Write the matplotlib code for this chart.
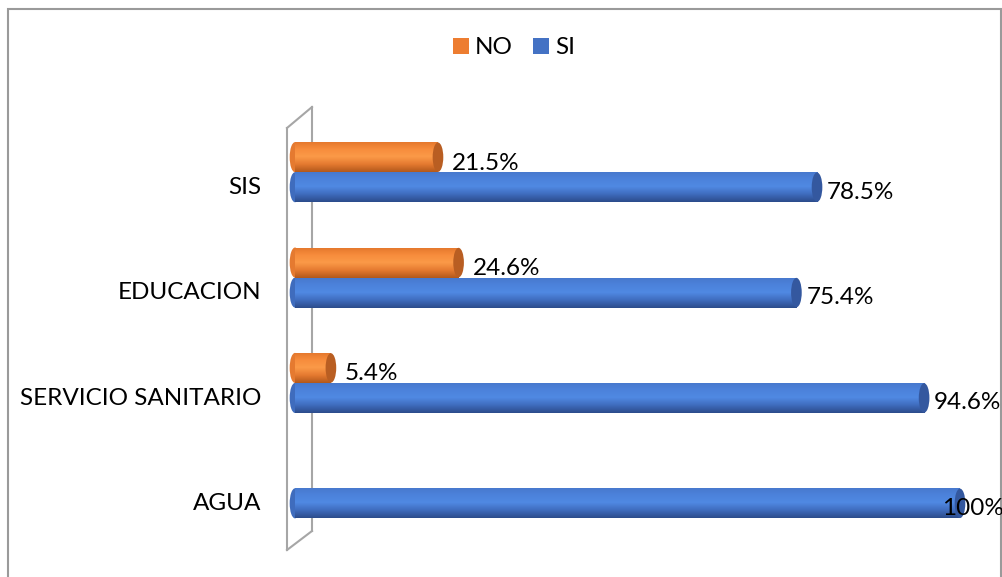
import numpy as np
import matplotlib
matplotlib.use("Agg")
import matplotlib.pyplot as plt
from matplotlib.patches import Ellipse, Patch, Rectangle
from matplotlib.lines import Line2D
from matplotlib.colors import LinearSegmentedColormap

# data (bottom to top)
categories = ["AGUA", "SERVICIO SANITARIO", "EDUCACION", "SIS"]
no_vals = [0, 5.4, 24.6, 21.5]
si_vals = [100, 94.6, 75.4, 78.5]
no_labels = [None, "5.4%", "24.6%", "21.5%"]
si_labels = ["100%", "94.6%", "75.4%", "78.5%"]

plt.rcParams['font.family'] = ['Lato', 'DejaVu Sans']

W, H = 1003, 577
fig = plt.figure(figsize=(W / 100, H / 100), dpi=100)

def fx(px):
    return px / W

def fy(py):
    return 1 - py / H

# outer chart border
fig.add_artist(Rectangle((fx(8.5), fy(600)), fx(993), fy(8.5) - fy(600),
                         transform=fig.transFigure, fill=False,
                         edgecolor="#9a9a9a", lw=1.5, zorder=-2))

# 3D wall outline
wall = "#a6a6a6"
for (x0, y0), (x1, y1) in [((287, 128), (287, 550)), ((312, 107), (312, 531)),
                           ((287, 128), (312, 107)), ((287, 550), (312, 531))]:
    fig.add_artist(Line2D([fx(x0), fx(x1)], [fy(y0), fy(y1)], transform=fig.transFigure,
                          color=wall, lw=1.5, zorder=-1))

ax = fig.add_axes([fx(295), fy(541), fx(665), fy(119.5) - fy(541)])
ax.patch.set_visible(False)
for s in ax.spines.values():
    s.set_visible(False)

ypos = np.arange(len(categories))
bh = 0.285

orange_cm = LinearSegmentedColormap.from_list("o", ["#e3762c", "#f78c3c", "#fb9a48", "#e57a30", "#b3591c"])
blue_cm = LinearSegmentedColormap.from_list("b", ["#4778cc", "#4c82db", "#5089e3", "#3f6cbd", "#2c4c8c"])

grad = np.linspace(0, 1, 64).reshape(-1, 1)

def draw_cyl(bars, cmap, capc, body):
    for b in bars:
        w = b.get_width()
        if w <= 0:
            b.set_visible(False)
            continue
        y0 = b.get_y()
        h = b.get_height()
        cw = 1.6
        # left rounded end
        ax.add_patch(Ellipse((0, y0 + h / 2), cw, h, facecolor=body, edgecolor="none",
                             zorder=1, clip_on=False))
        im = ax.imshow(grad, extent=[0, w, y0, y0 + h], aspect="auto", cmap=cmap,
                       origin="upper", zorder=2)
        im.set_clip_path(b)
        ax.add_patch(Ellipse((w, y0 + h / 2), cw, h * 0.98, facecolor=capc,
                             edgecolor="none", zorder=3, clip_on=False))
        b.set_facecolor("none")

si_bars = ax.barh(ypos - bh / 2, si_vals, height=bh, color="#4472c4", lw=0)
no_bars = ax.barh(ypos + bh / 2, no_vals, height=bh, color="#ed7d31", lw=0)
draw_cyl(si_bars, blue_cm, "#34589f", "#3f6cbd")
draw_cyl(no_bars, orange_cm, "#b95e22", "#e57a30")

ax.set_xlim(0, 100)
ax.set_ylim(-0.5, 3.5)

fs = 17.5
for y, v, lab in zip(ypos, si_vals, si_labels):
    dx = -18 if v >= 100 else 10
    ax.annotate(lab, (v, y - bh / 2), xytext=(dx, -5), textcoords="offset pixels",
                ha="left", va="center", fontsize=fs, color="black", zorder=5)
for y, v, lab in zip(ypos, no_vals, no_labels):
    if lab is None:
        continue
    ax.annotate(lab, (v, y + bh / 2), xytext=(14, -6), textcoords="offset pixels",
                ha="left", va="center", fontsize=fs, color="black", zorder=5)

ax.set_xticks([])
ax.set_yticks(ypos - 0.125)
ax.set_yticklabels(categories, fontsize=fs)
ax.tick_params(axis="y", length=0, pad=24)

handles = [Patch(facecolor="#ed7d31", label="NO"), Patch(facecolor="#4472c4", label="SI")]
fig.legend(handles=handles, loc="center", bbox_to_anchor=(fx(514), fy(48)), ncol=2,
           frameon=False, fontsize=fs, handlelength=0.65, handleheight=0.65,
           handletextpad=0.25, columnspacing=0.85)

fig.savefig("out.png", dpi=100)
